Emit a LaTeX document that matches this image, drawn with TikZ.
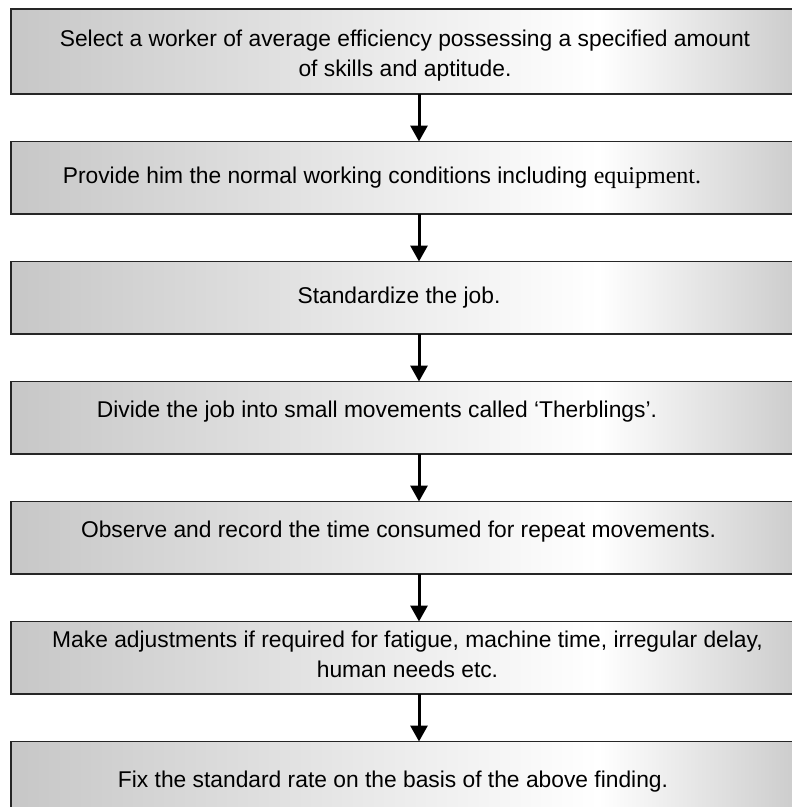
\documentclass[tikz,border=0pt]{standalone}
\usepackage{fontspec}
\setmainfont{Liberation Sans}
\newfontfamily\serifword{Liberation Serif}
\usetikzlibrary{positioning,arrows.meta}

\pgfdeclarehorizontalshading{boxgray}{100bp}{color(0bp)=(black!22); color(25bp)=(black!22);
  color(61bp)=(white); color(75bp)=(black!23); color(100bp)=(black!23)}

\begin{document}
\begin{tikzpicture}[x=1pt,y=1pt,node distance=47.5pt,
    stepbox/.style={rectangle,draw=black!85,line width=1.4pt,shade,shading=boxgray,
                    minimum width=816pt,minimum height=72.5pt,inner sep=0pt,outer sep=0pt},
    steptext/.style={align=center,inner sep=0pt,font=\fontsize{22.8}{29.5}\selectfont},
    flow/.style={line width=3pt,-{Triangle[width=17pt,length=16pt]}}]
  \useasboundingbox (0,0) rectangle (792,-807);
  \clip (0,0) rectangle (792,-807);

  % the boxes
  \node[stepbox,minimum height=85pt] (b1) at (419,-51.5) {};
  \node[stepbox] (b2) [below=of b1] {};
  \node[stepbox] (b3) [below=of b2] {};
  \node[stepbox] (b4) [below=of b3] {};
  \node[stepbox] (b5) [below=of b4] {};
  \node[stepbox] (b6) [below=of b5] {};
  \node[stepbox] (b7) [below=of b6] {};

  % the texts
  \node[steptext] (t1) at ([shift={(-14,-4.3)}]b1.center)
    {Select a worker of average efficiency possessing a specified amount\\ of skills and aptitude.};
  \node[steptext] (t2) at ([shift={(-37,0)}]b2.center)
    {Provide him the normal working conditions including {\serifword\fontsize{24}{29.5}\selectfont equipment.}};
  \node[steptext] (t3) at ([shift={(-20,0)}]b3.center) {Standardize the job.};
  \node[steptext] (t4) at ([shift={(-42,6)}]b4.center)
    {Divide the job into small movements called `Therblings'.};
  \node[steptext] (t5) at ([shift={(-20.5,6)}]b5.center)
    {Observe and record the time consumed for repeat movements.};
  \node[steptext] (t6) at ([shift={(-11.5,3.5)}]b6.center)
    {Make adjustments if required for fatigue, machine time, irregular delay,\\ human needs etc.};
  \node[steptext] (t7) at ([shift={(-26,-4)}]b7.center)
    {Fix the standard rate on the basis of the above finding.};

  \path (b1) edge[flow] (b2)
        (b2) edge[flow] (b3)
        (b3) edge[flow] (b4)
        (b4) edge[flow] (b5)
        (b5) edge[flow] (b6)
        (b6) edge[flow] (b7);
\end{tikzpicture}
\end{document}
